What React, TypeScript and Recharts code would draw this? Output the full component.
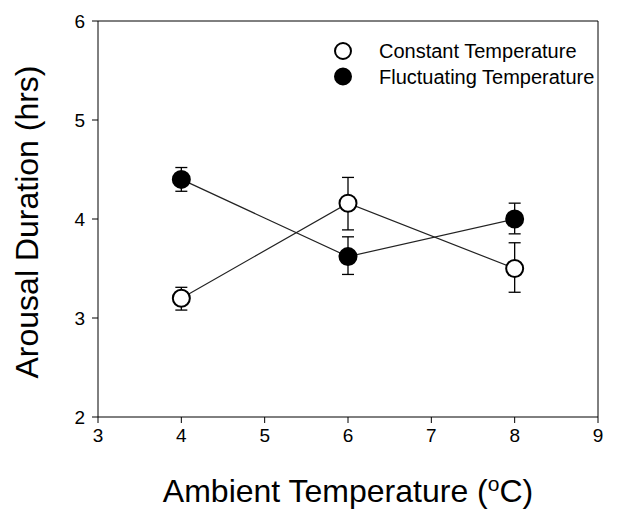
import {
  LineChart,
  Line,
  XAxis,
  YAxis,
  ErrorBar,
  ReferenceLine,
} from "recharts";

const temps = [4, 6, 8];
const constantMean = [3.2, 4.16, 3.5];
const constantErrLow = [0.12, 0.27, 0.24];
const constantErrHigh = [0.11, 0.26, 0.26];
const fluctMean = [4.4, 3.62, 4.0];
const fluctErrLow = [0.12, 0.18, 0.15];
const fluctErrHigh = [0.12, 0.2, 0.16];
const xTicks = [3, 4, 5, 6, 7, 8, 9];
const yTicks = [2, 3, 4, 5, 6];

const data = temps.map((t, i) => ({
  temp: t,
  constant: constantMean[i],
  constantErr: [constantErrLow[i], constantErrHigh[i]],
  fluct: fluctMean[i],
  fluctErr: [fluctErrLow[i], fluctErrHigh[i]],
}));

const FONT = "'Liberation Sans', Arial, sans-serif";

// custom ticks so the font size sticks
const XTick = (p: any) => (
  <text x={p.x} y={p.y + 17} textAnchor="middle" fontSize={19} fontFamily={FONT} fill="#000">
    {p.payload.value}
  </text>
);
const YTick = (p: any) => (
  <text x={p.x} y={p.y + 7} textAnchor="end" fontSize={19} fontFamily={FONT} fill="#000">
    {p.payload.value}
  </text>
);

const openDot = (p: any) => (
  <circle key={`o${p.index}`} cx={p.cx} cy={p.cy} r={8.5} fill="#fff" stroke="#000" strokeWidth={2} />
);
const filledDot = (p: any) => (
  <circle key={`f${p.index}`} cx={p.cx} cy={p.cy} r={8.5} fill="#000" stroke="#000" strokeWidth={2} />
);

const LegendBox = () => (
  <svg width={280} height={54} style={{ fontFamily: FONT, display: "block" }}>
    <circle cx={10} cy={10} r={8} fill="#fff" stroke="#000" strokeWidth={2} />
    <text x={46} y={17} fontSize={20} fill="#000">Constant Temperature</text>
    <circle cx={10} cy={35.5} r={8} fill="#000" stroke="#000" strokeWidth={2} />
    <text x={46} y={42.5} fontSize={20} fill="#000">Fluctuating Temperature</text>
  </svg>
);

export default function App() {
  return (
    <div style={{ position: "absolute", left: 0, top: 0, width: 621, height: 522, background: "#fff" }}>
      <LineChart
        width={621}
        height={522}
        data={data}
        margin={{ top: 21, right: 23, left: 38, bottom: 75 }}
      >
        <XAxis
          dataKey="temp"
          type="number"
          domain={[3, 9]}
          ticks={xTicks}
          allowDataOverflow
          tick={<XTick />}
          tickSize={6}
          tickMargin={2}
          axisLine={{ stroke: "#000" }}
          tickLine={{ stroke: "#000" }}
          height={30}
          label={{
            position: "bottom",
            content: (props: any) => {
              const vb = props.viewBox;
              return (
                <text
                  x={vb.x + vb.width / 2}
                  y={502}
                  textAnchor="middle"
                  fontSize={32}
                  fontFamily={FONT}
                  fill="#000"
                >
                  Ambient Temperature (
                  <tspan baselineShift="super" fontSize={21}>o</tspan>
                  <tspan>C)</tspan>
                </text>
              );
            },
          }}
        />
        <YAxis
          type="number"
          domain={[2, 6]}
          ticks={yTicks}
          allowDataOverflow
          tick={<YTick />}
          tickSize={6}
          tickMargin={7}
          axisLine={{ stroke: "#000" }}
          tickLine={{ stroke: "#000" }}
          width={60}
          label={{
            position: "left",
            content: () => (
              <text
                x={38}
                y={222}
                transform="rotate(-90 38 222)"
                textAnchor="middle"
                fontSize={32}
                fontFamily={FONT}
                fill="#000"
              >
                Arousal Duration (hrs)
              </text>
            ),
          }}
        />
        <ReferenceLine y={6} stroke="#000" />
        <ReferenceLine x={9} stroke="#000" />
        <Line
          dataKey="constant"
          stroke="#222"
          strokeWidth={1.2}
          dot={openDot}
          activeDot={false}
          isAnimationActive={false}
        >
          <ErrorBar dataKey="constantErr" width={6} stroke="#000" strokeWidth={1.3} />
        </Line>
        <Line
          dataKey="fluct"
          stroke="#222"
          strokeWidth={1.2}
          dot={filledDot}
          activeDot={false}
          isAnimationActive={false}
        >
          <ErrorBar dataKey="fluctErr" width={6} stroke="#000" strokeWidth={1.3} />
        </Line>
      </LineChart>
      <div style={{ position: "absolute", left: 333, top: 41 }}>
        <LegendBox />
      </div>
    </div>
  );
}
